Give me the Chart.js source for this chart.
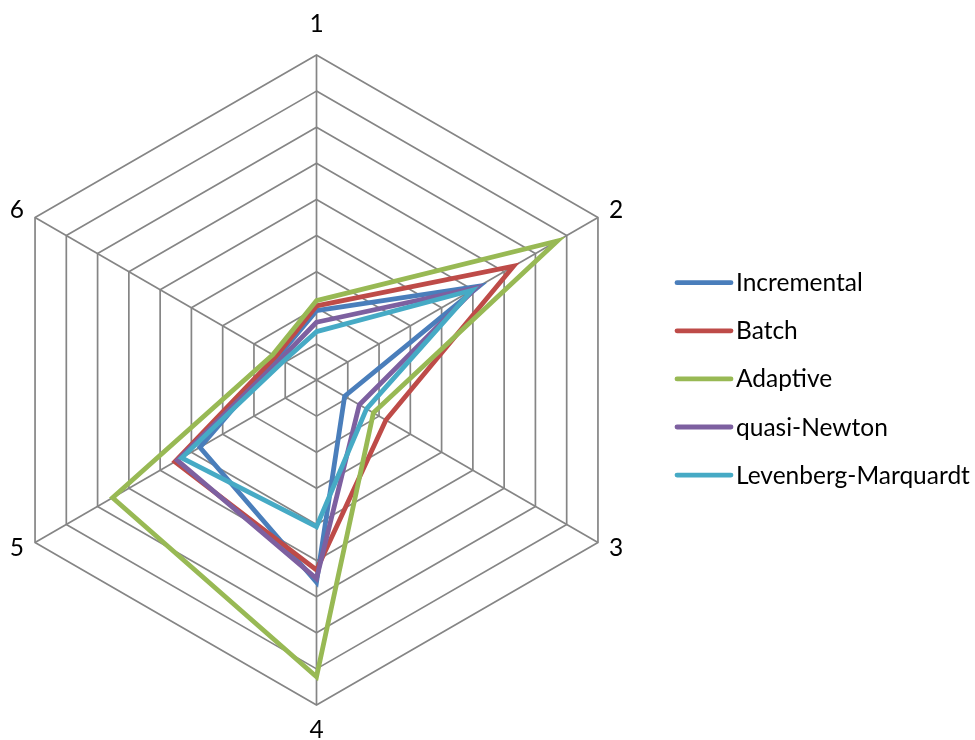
<!DOCTYPE html>
<html>
<head>
<meta charset="utf-8">
<script src="https://cdn.jsdelivr.net/npm/chart.js@4/dist/chart.umd.min.js"></script>
<style>
  html, body { margin: 0; padding: 0; background: #ffffff; }
  canvas { display: block; }
</style>
</head>
<body>
<canvas id="radar" width="975" height="740"></canvas>
<script>
// Axis categories and series values (one value per axis, clockwise from the top)
const categories = ['1', '2', '3', '4', '5', '6'];
const seriesNames = ['Incremental', 'Batch', 'Adaptive', 'quasi-Newton', 'Levenberg-Marquardt'];

const incremental        = [1.92, 5.20, 0.90, 5.60, 3.73, 1.25];
const batch              = [2.05, 6.30, 2.22, 5.26, 4.53, 1.30];
const adaptive           = [2.20, 7.70, 1.82, 8.22, 6.52, 1.40];
const quasiNewton        = [1.60, 5.10, 1.37, 5.50, 4.45, 1.15];
const levenbergMarquardt = [1.34, 4.97, 1.60, 4.06, 4.31, 1.05];

// Radial scale range: nine concentric rings
const scaleMin = 0;
const scaleMax = 9;
const scaleStep = 1;

const seriesValues = [incremental, batch, adaptive, quasiNewton, levenbergMarquardt];
const seriesColors = ['#4A7EBB', '#BE4B48', '#98B954', '#7D60A0', '#46AAC5'];

const FONT = '24.5px Lato, "Open Sans", sans-serif';
const GRID = '#858585';

// Centre and outer radius of the hexagon
function placeScale(scale) {
  scale.xCenter = 316.5;
  scale.yCenter = 380;
  scale.drawingArea = 325;
}

// Axis names drawn just outside each spoke
const axisNames = {
  id: 'axisNames',
  afterDraw(chart) {
    const scale = chart.scales.r;
    const ctx = chart.ctx;
    ctx.save();
    ctx.font = FONT;
    ctx.fillStyle = '#000000';
    ctx.textBaseline = 'alphabetic';
    categories.forEach((name, i) => {
      const p = scale.getPointPosition(i, scale.drawingArea);
      let x = p.x, y = p.y, align = 'center';
      switch (i) {
        case 0: y -= 23; break;
        case 1: x += 11; align = 'left'; break;
        case 2: x += 11; y += 13; align = 'left'; break;
        case 3: y += 33; break;
        case 4: x -= 11; y += 13; align = 'right'; break;
        case 5: x -= 11; align = 'right'; break;
      }
      ctx.textAlign = align;
      ctx.fillText(name, x, y);
    });
    ctx.restore();
  }
};

// Legend on the right: a short line sample followed by the series name
const sideLegend = {
  id: 'sideLegend',
  afterDraw(chart) {
    const ctx = chart.ctx;
    ctx.save();
    ctx.font = FONT;
    ctx.textAlign = 'left';
    ctx.textBaseline = 'alphabetic';
    chart.data.datasets.forEach((ds, i) => {
      const y = 282.7 + i * 48.1;
      ctx.strokeStyle = ds.borderColor;
      ctx.lineWidth = 4.8;
      ctx.lineCap = 'round';
      ctx.beginPath();
      ctx.moveTo(677, y);
      ctx.lineTo(731, y);
      ctx.stroke();
      ctx.fillStyle = '#000000';
      ctx.fillText(ds.label, 736, y + 8.5);
    });
    ctx.restore();
  }
};

const datasets = seriesNames.map((name, i) => ({
  label: name,
  data: seriesValues[i],
  borderColor: seriesColors[i],
  backgroundColor: seriesColors[i],
  borderWidth: 4.8,
  borderJoinStyle: 'miter',
  fill: false,
  tension: 0,
  pointRadius: 0,
  pointHoverRadius: 0,
  order: seriesNames.length - i
}));

new Chart(document.getElementById('radar'), {
  type: 'radar',
  data: { labels: categories, datasets },
  options: {
    responsive: false,
    animation: false,
    events: [],
    plugins: {
      legend: { display: false },
      tooltip: { enabled: false }
    },
    scales: {
      r: {
        min: scaleMin,
        max: scaleMax,
        ticks: { display: false, stepSize: scaleStep },
        pointLabels: { display: false },
        grid: { color: GRID, lineWidth: 1.7 },
        angleLines: { color: GRID, lineWidth: 1.7 },
        afterFit: placeScale
      }
    }
  },
  plugins: [axisNames, sideLegend]
});
</script>
</body>
</html>
